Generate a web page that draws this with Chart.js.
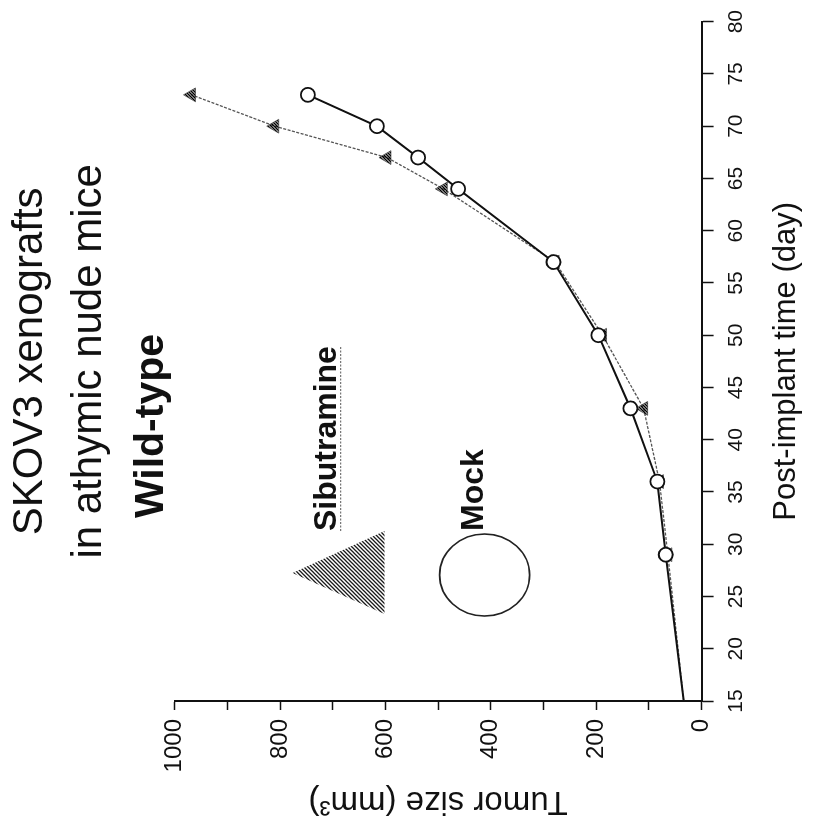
<!DOCTYPE html>
<html>
<head>
<meta charset="utf-8">
<script src="https://cdn.jsdelivr.net/npm/chart.js@4"></script>
<style>
  html, body { margin: 0; padding: 0; background: #fff; width: 813px; height: 827px; overflow: hidden; }
  /* the figure is published turned a quarter turn, so the chart is drawn upright and the box rotated */
  #wrap { position: absolute; left: -7px; top: 7px; width: 827px; height: 813px; transform: rotate(-90deg); transform-origin: 50% 50%; }
</style>
</head>
<body>
<div id="wrap"><canvas id="tumorChart" width="827" height="813"></canvas></div>
<script>
const titleLines = ['SKOV3 xenografts', 'in athymic nude mice'];
const subtitle = 'Wild-type';
const days = [15, 29, 36, 43, 50, 57, 64, 67, 70, 73];
const mockSize = [34, 68, 84, 135, 196, 281, 462, 538, 616, 747];
const sibutramineSize = [34, 64, 80, 110, 188, 278, 490, 597, 810, 968];
const dayTicks = [15, 20, 25, 30, 35, 40, 45, 50, 55, 60, 65, 70, 75, 80];
const sizeTickLabels = [0, 200, 400, 600, 800, 1000];

const FONT = "'Liberation Sans', Arial, sans-serif";
const INK = '#111';

const canvas = document.getElementById('tumorChart');
const ctx = canvas.getContext('2d');

// diagonal hatching used for the Sibutramine triangles
function hatch(step, lw, color) {
  const c = document.createElement('canvas');
  c.width = step; c.height = step;
  const g = c.getContext('2d');
  g.strokeStyle = color;
  g.lineWidth = lw;
  g.beginPath();
  g.moveTo(0, step); g.lineTo(step, 0);
  g.moveTo(-1, 1); g.lineTo(1, -1);
  g.moveTo(step - 1, step + 1); g.lineTo(step + 1, step - 1);
  g.stroke();
  return ctx.createPattern(c, 'repeat');
}
const hatchSmall = hatch(3, 1.5, '#000');
const hatchBig = hatch(4, 1.3, '#1a1a1a');

const extras = {
  id: 'extras',
  afterDraw(chart) {
    const c = chart.ctx;
    const a = chart.chartArea;
    c.save();
    c.fillStyle = INK;
    c.textBaseline = 'alphabetic';

    c.font = `bold 41px ${FONT}`;
    c.textAlign = 'center';
    c.fillText(subtitle, a.left + 275, a.top - 12);

    // legend: big hatched triangle + label
    const sib = chart.data.datasets[1];
    c.beginPath();
    c.moveTo(a.left + 128, a.top + 118);
    c.lineTo(a.left + 170, a.top + 210);
    c.lineTo(a.left + 87, a.top + 210);
    c.closePath();
    c.fillStyle = hatchBig;
    c.fill();
    c.fillStyle = INK;
    c.font = `bold 32px ${FONT}`;
    c.textAlign = 'left';
    c.fillText(sib.label, a.left + 170, a.top + 161);
    const w = c.measureText(sib.label).width;
    c.strokeStyle = '#777';
    c.lineWidth = 1.2;
    c.setLineDash([2, 1.5]);
    c.beginPath();
    c.moveTo(a.left + 170, a.top + 166);
    c.lineTo(a.left + 170 + w, a.top + 166);
    c.stroke();
    c.setLineDash([]);

    // legend: big open circle + label
    const mock = chart.data.datasets[0];
    c.strokeStyle = '#222';
    c.lineWidth = 1.6;
    c.beginPath();
    c.ellipse(a.left + 126, a.top + 310, 41, 45, 0, 0, Math.PI * 2);
    c.stroke();
    c.fillText(mock.label, a.left + 170, a.top + 308);
    c.restore();
  }
};

new Chart(ctx, {
  type: 'line',
  data: {
    labels: days,
    datasets: [{
      label: 'Mock',
      data: days.map((d, i) => ({ x: d, y: mockSize[i] })),
      borderColor: INK,
      borderWidth: 2,
      pointStyle: 'circle',
      pointRadius: c => c.dataIndex === 0 ? 0 : 7,
      pointBackgroundColor: '#fff',
      pointBorderColor: INK,
      pointBorderWidth: 1.8,
      tension: 0
    }, {
      label: 'Sibutramine',
      data: days.map((d, i) => ({ x: d, y: sibutramineSize[i] })),
      borderColor: '#555',
      borderWidth: 1.3,
      borderDash: [3, 1.5],
      pointStyle: 'triangle',
      pointRadius: c => c.dataIndex === 0 ? 0 : 8,
      pointBackgroundColor: hatchSmall,
      pointBorderColor: '#333',
      pointBorderWidth: 0.6,
      tension: 0
    }]
  },
  options: {
    responsive: false,
    animation: false,
    devicePixelRatio: 1,
    layout: { padding: { left: 0, right: 20, top: 0, bottom: 4 } },
    plugins: {
      legend: { display: false },
      tooltip: { enabled: false },
      title: {
        display: true,
        fullSize: false,
        text: titleLines,
        color: INK,
        font: { family: FONT, size: 42, weight: 'normal', lineHeight: 1.4 },
        padding: { top: 1, bottom: 56 }
      }
    },
    scales: {
      x: {
        type: 'linear',
        min: dayTicks[0],
        max: dayTicks[dayTicks.length - 1],
        border: { display: true, color: INK, width: 2 },
        grid: { drawOnChartArea: false, drawTicks: true, tickLength: 12, tickColor: INK, tickWidth: 1.5 },
        ticks: {
          stepSize: 5, autoSkip: false, maxRotation: 0, padding: 10, color: INK,
          font: { family: FONT, size: 21 }
        },
        title: {
          display: true, text: 'Post-implant time (day)', color: INK,
          font: { family: FONT, size: 31 }, padding: { top: 9, bottom: 4 }
        }
      },
      y: {
        type: 'linear',
        min: 0,
        max: 1000,
        border: { display: true, color: INK, width: 2 },
        grid: { drawOnChartArea: false, drawTicks: true, tickLength: 9, tickColor: INK, tickWidth: 1.5 },
        ticks: {
          stepSize: 100, autoSkip: false, padding: 9, color: INK,
          font: { family: FONT, size: 24 },
          callback: v => sizeTickLabels.includes(v) ? String(v) : ''
        },
        title: {
          display: true, text: 'Tumor size (mm³)', color: INK,
          font: { family: FONT, size: 33 }, padding: { top: 6, bottom: 0 }
        }
      }
    }
  },
  plugins: [extras]
});
</script>
</body>
</html>
